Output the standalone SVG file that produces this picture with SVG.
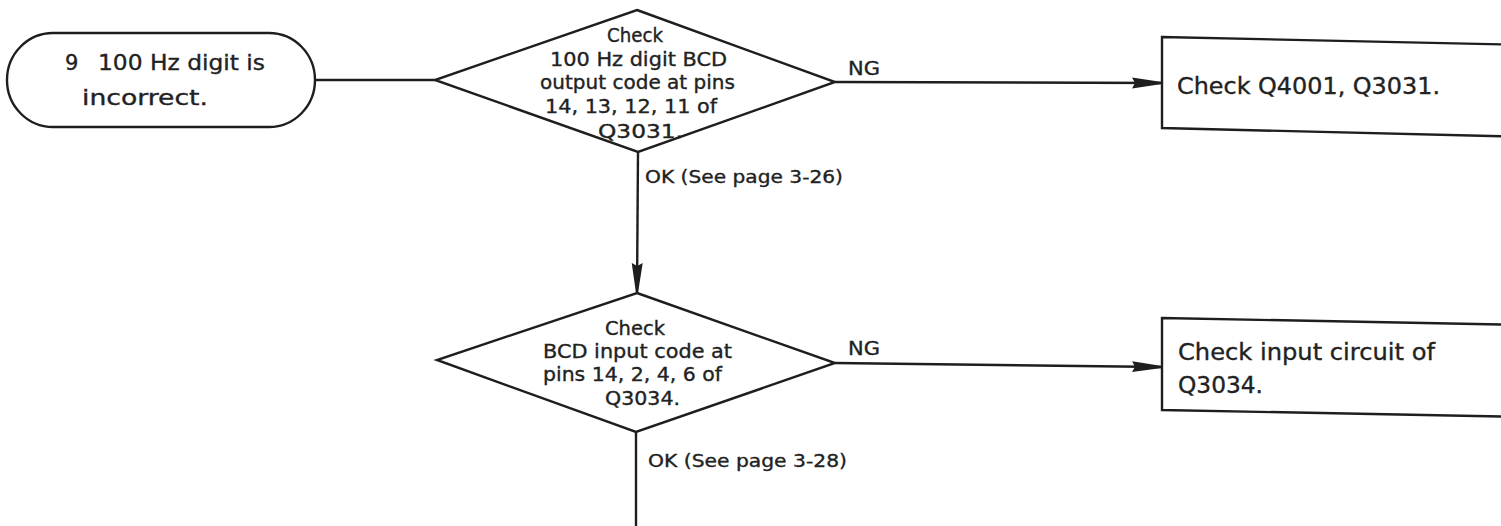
<svg xmlns="http://www.w3.org/2000/svg" width="1501" height="526" viewBox="0 0 1501 526">
  <style>
    .shape { fill: #ffffff; stroke: #1e1e1e; stroke-width: 2.4; stroke-linejoin: miter; }
    .conn { fill: none; stroke: #1e1e1e; stroke-width: 2.4; }
    text { font-family: "DejaVu Sans", "Liberation Sans", sans-serif; fill: #222222; stroke: #222222; stroke-width: 0.35; }
    .pill { font-size: 21px; }
    .dia { font-size: 19px; }
    .box { font-size: 23px; }
    .lbl { font-size: 18px; }
    .ng { font-size: 20px; }
  </style>
  <defs>
    <marker id="arrow" markerUnits="userSpaceOnUse" markerWidth="32" markerHeight="14" refX="30" refY="7" orient="auto">
      <path d="M0,1.5 L30,6 L30,8 L0,12.5 L3,7 z" fill="#1e1e1e"/>
    </marker>
  </defs>
  <rect width="1501" height="526" fill="#ffffff"/>

  <g id="connectors">
    <line class="conn" x1="315" y1="80" x2="435" y2="80"/>
    <line class="conn" x1="835" y1="82" x2="1162" y2="83" marker-end="url(#arrow)"/>
    <line class="conn" x1="638" y1="152" x2="637" y2="293" marker-end="url(#arrow)"/>
    <line class="conn" x1="835" y1="363" x2="1162" y2="367" marker-end="url(#arrow)"/>
    <line class="conn" x1="636" y1="432" x2="636" y2="530"/>
    <text class="ng" x="848" y="75" textLength="32" lengthAdjust="spacingAndGlyphs">NG</text>
    <text class="ng" x="848" y="355" textLength="32" lengthAdjust="spacingAndGlyphs">NG</text>
    <text class="lbl" x="645" y="183" textLength="198" lengthAdjust="spacingAndGlyphs">OK (See page 3-26)</text>
    <text class="lbl" x="648" y="467" textLength="199" lengthAdjust="spacingAndGlyphs">OK (See page 3-28)</text>
  </g>

  <g id="start">
    <rect class="shape" x="7" y="33" width="308" height="94" rx="46" ry="47"/>
    <text class="pill" x="65" y="70">9</text>
    <text class="pill" x="98" y="70" textLength="167" lengthAdjust="spacingAndGlyphs">100 Hz digit is</text>
    <text class="pill" x="82" y="105" textLength="126" lengthAdjust="spacingAndGlyphs">incorrect.</text>
  </g>

  <g id="check1">
    <polygon class="shape" points="637,10 835,82 638,152 435,80"/>
    <text class="dia" x="607" y="42" textLength="56" lengthAdjust="spacingAndGlyphs">Check</text>
    <text class="dia" x="550" y="66" textLength="177" lengthAdjust="spacingAndGlyphs">100 Hz digit BCD</text>
    <text class="dia" x="540" y="89" textLength="195" lengthAdjust="spacingAndGlyphs">output code at pins</text>
    <text class="dia" x="545" y="113" textLength="172" lengthAdjust="spacingAndGlyphs">14, 13, 12, 11 of</text>
    <text class="dia" x="598" y="138" textLength="85" lengthAdjust="spacingAndGlyphs">Q3031.</text>
  </g>

  <g id="result1">
    <polygon class="shape" points="1162,37 1530,45 1530,137 1162,128"/>
    <text class="box" x="1177" y="94" textLength="263" lengthAdjust="spacingAndGlyphs">Check Q4001, Q3031.</text>
  </g>

  <g id="check2">
    <polygon class="shape" points="637,293 835,363 636,432 437,360"/>
    <text class="dia" x="605" y="335" textLength="60" lengthAdjust="spacingAndGlyphs">Check</text>
    <text class="dia" x="543" y="358" textLength="189" lengthAdjust="spacingAndGlyphs">BCD input code at</text>
    <text class="dia" x="543" y="381" textLength="179" lengthAdjust="spacingAndGlyphs">pins 14, 2, 4, 6 of</text>
    <text class="dia" x="605" y="405" textLength="75" lengthAdjust="spacingAndGlyphs">Q3034.</text>
  </g>

  <g id="result2">
    <polygon class="shape" points="1162,318 1530,325 1530,417 1162,410"/>
    <text class="box" x="1178" y="360" textLength="257" lengthAdjust="spacingAndGlyphs">Check input circuit of</text>
    <text class="box" x="1178" y="393" textLength="85" lengthAdjust="spacingAndGlyphs">Q3034.</text>
  </g>
</svg>
